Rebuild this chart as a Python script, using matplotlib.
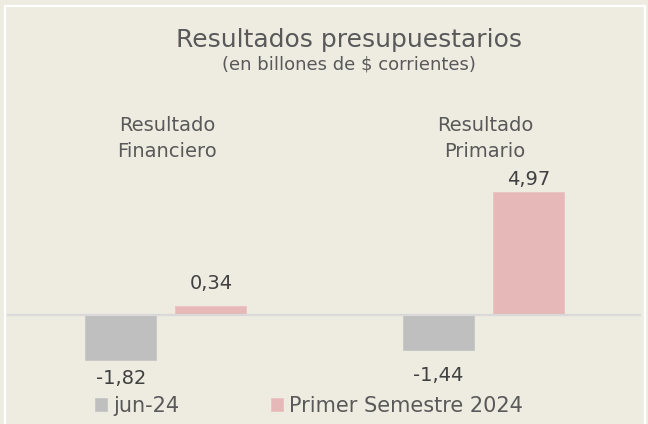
import matplotlib.pyplot as plt
from matplotlib.patches import Rectangle
import numpy as np

# datos
categorias = ['Resultado\nFinanciero', 'Resultado\nPrimario']
series = ['jun-24', 'Primer Semestre 2024']
jun_24 = [-1.82, -1.44]
primer_sem = [0.34, 4.97]

BG = '#EEEBE0'
GRIS = '#BFBFBF'
ROSA = '#E6B8B7'
TXT = '#595959'

plt.rcParams['font.family'] = ['DejaVu Sans']

fig = plt.figure(figsize=(6.48, 4.24), dpi=100)
fig.patch.set_facecolor(BG)

# marco blanco
fig.add_artist(Rectangle((5 / 648, -0.2), 640 / 648, 1.2 - 5.5 / 424,
                         transform=fig.transFigure, fill=False,
                         edgecolor='white', lw=1.6))

ax = fig.add_axes([7 / 648, 24 / 424, 634 / 648, 240 / 424])
ax.set_facecolor(BG)
ax.patch.set_alpha(0)

x = np.arange(len(categorias))
w = 0.224
off = 0.142
b1 = ax.bar(x - off, jun_24, w, color=GRIS, edgecolor='#C6C6C6', lw=0.6, label=series[0], zorder=2)
b2 = ax.bar(x + off, primer_sem, w, color=ROSA, edgecolor='#EBC2C1', lw=0.6, label=series[1], zorder=2)
ax.axhline(0, color='#D9D9D9', lw=1.6, zorder=3)

ax.set_xlim(-0.5, 1.496)
ax.set_ylim(-3.45, 6.26)
ax.axis('off')

fmt = lambda v: f'{v:.2f}'.replace('.', ',')
# desplazamiento de etiquetas en pixeles
dy_jun = [-19, -25]
dy_sem = [23, 12]
for xi, v, d in zip(x - off, jun_24, dy_jun):
    ax.annotate(fmt(v), (xi, v), xytext=(0, d), textcoords='offset pixels',
                ha='center', va='center', fontsize=14, color='#404040')
for xi, v, d in zip(x + off, primer_sem, dy_sem):
    ax.annotate(fmt(v), (xi, v), xytext=(0, d), textcoords='offset pixels',
                ha='center', va='center', fontsize=14, color='#404040')

for xi, c in zip(x, categorias):
    ax.text(xi + 0.005, (400 - 138.5) / 240, c, transform=ax.get_xaxis_transform(),
            ha='center', va='center', fontsize=14, color=TXT, linespacing=1.45)

fig.text(349 / 648, 1 - 40 / 424, 'Resultados presupuestarios', ha='center', va='center',
         fontsize=18, color=TXT)
fig.text(349 / 648, 1 - 64 / 424, '(en billones de $ corrientes)', ha='center', va='center',
         fontsize=13, color=TXT)

fig.legend(handles=[b1, b2], labels=series, loc='center left', bbox_to_anchor=(95 / 648, 1 - 406 / 424),
           ncol=2, frameon=False, fontsize=15, handlelength=0.58, handleheight=0.58,
           handletextpad=0.3, columnspacing=4.4, borderpad=0, borderaxespad=0, labelcolor=TXT)

fig.savefig('out.png', dpi=100, facecolor=BG)
